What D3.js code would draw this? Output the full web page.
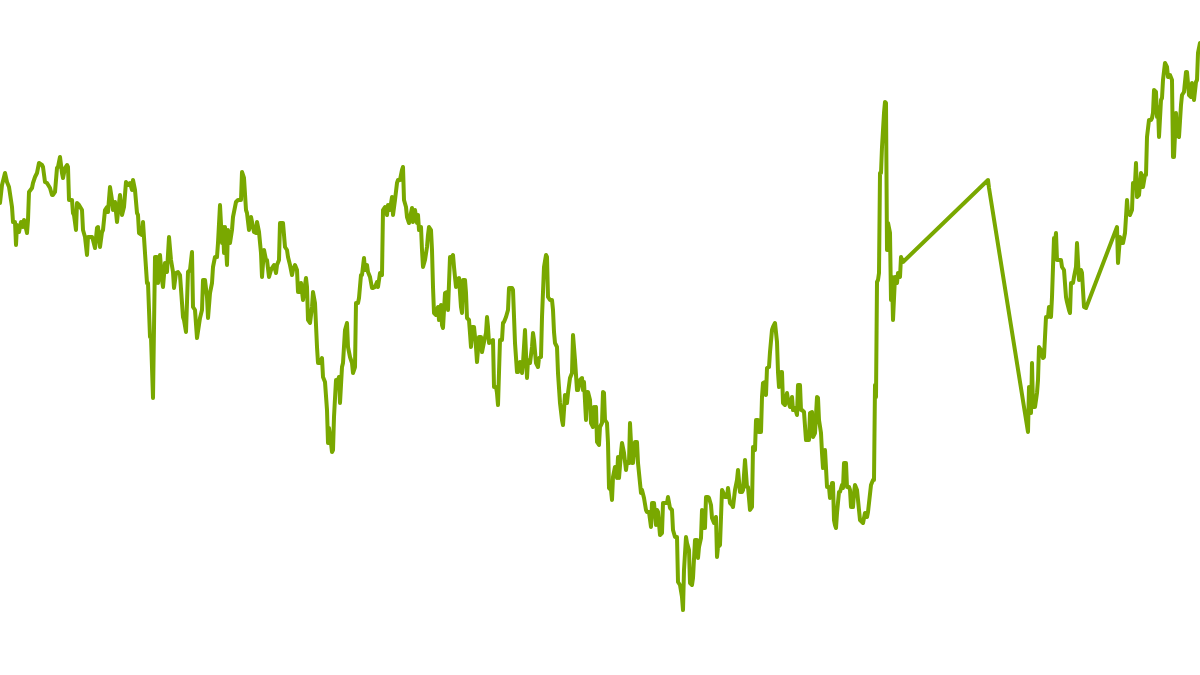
<!DOCTYPE html>
<html>
<head>
<meta charset="utf-8">
<script src="https://cdn.jsdelivr.net/npm/d3@7"></script>
<style>
  html, body { margin: 0; padding: 0; background: #fff; }
  svg { display: block; }
</style>
</head>
<body>
<svg id="chart" width="1200" height="675"></svg>
<script>
// session number (gaps = missing sessions) and closing level
const day = [
  0, 2, 5, 7, 9, 12, 13, 15, 16, 17, 19, 21, 23, 24, 27, 28, 29, 32, 33, 35,
  37, 39, 42, 43, 45, 47, 50, 52, 53, 55, 57, 58, 60, 62, 63, 65, 67, 68, 69, 72,
  73, 74, 76, 77, 79, 82, 83, 85, 87, 88, 90, 92, 93, 95, 97, 98, 100, 102, 103, 105,
  107, 108, 110, 112, 113, 115, 117, 118, 120, 122, 124, 126, 128, 130, 132, 133, 135, 137, 138, 139,
  142, 143, 145, 147, 148, 150, 151, 153, 155, 157, 158, 160, 162, 163, 165, 167, 169, 171, 173, 174,
  176, 178, 180, 183, 184, 186, 188, 190, 192, 193, 195, 197,
  200, 202, 203, 205, 207, 208, 210, 212, 213, 215, 217, 218, 220, 222, 223, 224, 225, 227, 228, 230,
  232, 233, 234, 236, 238, 241, 242, 244, 246, 247, 249, 251, 252, 254, 256, 257, 259, 261, 262, 264,
  266, 267, 269, 271, 272, 274, 276, 277, 279, 280, 282, 283, 285, 287, 288, 290, 292, 293, 295, 297,
  298, 299, 301, 303, 304, 306, 307, 308, 310, 312, 313, 315, 317, 318, 320, 322, 323, 325, 327, 328,
  329, 331, 332, 333, 334, 336, 337, 339, 340, 342, 343, 345, 347, 348, 350, 352, 353, 355, 356, 358,
  359, 361, 362, 364, 365, 367, 368, 370, 372, 373, 375, 377, 378, 380, 382, 383, 385, 387, 388, 390,
  392, 393, 395, 397, 398, 400, 402, 403, 404,
  406, 407, 409, 411, 412, 413, 415, 417, 418, 419, 421, 422, 423, 425, 427, 428, 429, 431, 432, 433,
  434, 436, 438, 439, 441, 442, 443, 445, 447, 448, 450, 452, 453, 454, 456, 457, 459, 461, 462, 463,
  465, 466, 467, 469, 470, 471, 472, 474, 476, 477, 479, 481, 482, 484, 486, 487, 488, 489, 491, 493,
  494, 496, 497, 498, 500, 502, 503, 504, 506, 508, 509, 511, 512, 513, 515, 517, 518, 520, 522, 523,
  525, 527, 528, 530, 532, 533, 534, 536, 538, 539, 541, 542, 544, 546, 547, 548, 550, 552, 553, 554,
  555, 557, 558, 560, 562, 563, 565, 567, 568, 570, 572, 573, 575, 577, 578, 580, 582, 583, 584, 586,
  587, 588, 590, 591, 593, 594, 595, 596, 597, 599, 600, 602, 603, 604, 605, 607, 608, 609, 611, 612,
  613, 615, 617, 618, 619, 621, 622, 624, 626, 627, 629, 630, 632, 633, 635, 637, 638, 639, 641, 642,
  644, 646, 647, 649, 651, 652, 654, 656, 657, 658, 660, 662, 663, 665, 667, 668, 670, 672, 673, 675,
  677, 678, 680, 682, 683, 684, 686, 687, 689, 690, 692, 693, 695, 697, 698, 699, 701, 702, 703, 705,
  706, 708, 709, 711, 712, 714, 716, 717, 718, 720, 722, 723, 725, 727, 728, 730, 732, 733, 735, 737,
  738, 740, 742, 743, 745, 747, 748, 750, 752, 753, 755, 756, 758, 759, 761, 762, 763, 765, 766, 767,
  769, 770, 772, 773, 775, 777, 778, 779, 781, 782, 783, 785, 787, 788, 790, 792, 793, 795, 797, 798,
  800,
  801, 802, 804, 806, 807, 809, 810, 812, 813, 815, 817, 818, 819, 821, 822, 823, 825, 826, 827, 829,
  830, 832, 833, 834, 835, 836, 837, 839, 840, 842, 843, 844, 846, 847, 849, 850, 851, 853, 854, 855,
  857, 858, 860, 862, 863, 865, 867, 868, 869, 871, 873, 874, 875, 876, 877, 878, 879, 880, 881, 882,
  883, 884, 885, 886, 887, 888, 890, 891, 892, 893, 895, 897, 898, 900, 901, 903,
  988, 989,
  1028, 1029, 1031, 1032, 1033, 1035, 1037, 1038, 1039, 1041, 1043, 1044, 1046, 1048, 1049, 1051, 1052, 1053, 1054, 1055,
  1056, 1057, 1059, 1061, 1062, 1064, 1066, 1067, 1069, 1070, 1071, 1073, 1074, 1076, 1077, 1079, 1081, 1082, 1084, 1086,
  1117, 1118, 1120, 1122, 1123, 1125, 1126, 1127, 1128, 1130, 1132, 1133, 1135, 1136, 1137, 1139, 1141, 1142, 1143, 1145,
  1146, 1147, 1149, 1151, 1152, 1153, 1154, 1156, 1157, 1158, 1159, 1161, 1162, 1163, 1165, 1167, 1168, 1170, 1172, 1173,
  1174, 1176, 1177, 1179, 1181, 1182, 1184, 1186, 1187, 1189, 1191, 1192, 1194, 1196, 1197, 1198, 1200
];

const price = [
  47.2, 49.0, 50.2, 49.3, 48.8, 46.8, 45.3, 45.3, 43.0, 45.0, 44.3, 45.3, 44.8, 45.5, 44.2, 45.5, 48.3, 48.7, 49.2, 49.8,
  50.2, 51.2, 51.0, 50.8, 49.3, 49.2, 48.7, 48.0, 48.0, 48.3, 50.7, 50.8, 51.8, 50.2, 49.7, 50.7, 51.0, 50.8, 47.5, 47.5,
  46.2, 46.0, 44.5, 47.2, 47.0, 46.5, 44.5, 43.8, 42.0, 43.8, 43.8, 43.8, 43.5, 42.7, 44.7, 44.8, 42.8, 44.3, 44.5, 46.5,
  46.8, 46.3, 48.8, 47.5, 46.5, 47.3, 45.3, 46.3, 48.0, 46.0, 46.8, 49.3, 49.0, 49.2, 48.5, 49.5, 48.5, 46.2, 46.0, 44.2,
  44.0, 45.3, 42.2, 39.2, 39.2, 33.8, 33.8, 27.7, 41.8, 41.8, 39.2, 42.0, 39.5, 38.8, 41.2, 40.3, 43.8, 41.5, 40.3, 38.7,
  40.2, 40.3, 40.0, 35.8, 35.5, 34.3, 40.3, 40.5, 42.3, 36.8, 36.5, 33.7,
  35.7, 36.5, 39.5, 39.5, 37.8, 35.7, 38.2, 39.2, 40.8, 41.8, 41.8, 43.2, 47.0, 43.2, 44.8, 42.2, 44.8, 41.0, 44.5, 43.2,
  44.5, 45.8, 46.3, 47.3, 47.5, 47.5, 50.3, 49.7, 46.5, 46.2, 44.5, 45.8, 45.3, 44.3, 44.2, 45.3, 44.3, 42.2, 39.8, 42.5,
  41.5, 41.5, 39.8, 40.5, 40.7, 41.0, 40.2, 41.0, 41.5, 45.2, 45.2, 45.2, 42.8, 42.5, 41.8, 41.0, 40.0, 40.5, 41.0, 40.5,
  38.3, 38.3, 39.2, 37.5, 38.3, 39.7, 38.8, 35.5, 35.2, 36.8, 38.3, 37.2, 32.8, 31.2, 31.2, 31.7, 29.8, 29.3, 26.5, 23.2,
  24.7, 23.2, 22.3, 22.5, 25.8, 29.5, 29.2, 29.8, 27.2, 30.8, 31.2, 34.5, 35.2, 32.8, 31.8, 31.2, 30.2, 30.8, 37.2, 37.2,
  37.7, 40.0, 40.0, 41.7, 40.5, 41.0, 40.3, 39.8, 38.7, 38.7, 38.8, 39.3, 38.8, 40.2, 40.0, 46.5, 46.8, 46.0, 47.0, 46.5,
  47.8, 46.0, 47.5, 49.2, 49.5, 49.5, 50.5, 50.8, 47.5,
  46.8, 45.8, 45.2, 46.2, 46.7, 45.3, 46.5, 45.2, 46.0, 44.5, 44.8, 42.5, 40.8, 41.5, 42.8, 44.0, 44.8, 44.5, 42.5, 38.8,
  36.2, 36.0, 36.8, 35.5, 37.0, 35.0, 34.7, 38.2, 38.3, 36.5, 41.8, 41.8, 42.0, 40.8, 38.8, 39.5, 39.7, 36.8, 36.2, 39.5,
  39.5, 38.2, 35.7, 35.5, 34.2, 32.8, 34.8, 34.8, 32.8, 31.3, 33.8, 33.8, 32.3, 33.3, 34.2, 35.8, 34.8, 33.2, 33.3, 33.5,
  28.8, 28.8, 28.2, 27.0, 33.5, 33.5, 35.2, 35.3, 35.8, 36.5, 38.7, 38.7, 38.7, 38.5, 33.2, 30.3, 30.3, 31.3, 30.2, 31.2,
  34.5, 29.7, 31.5, 31.2, 32.8, 34.2, 33.5, 31.2, 30.8, 31.7, 31.8, 35.8, 40.8, 42.0, 41.8, 37.8, 37.5, 37.5, 36.5, 34.3,
  33.2, 32.8, 30.2, 27.2, 25.5, 25.0, 28.0, 27.2, 28.2, 29.7, 30.2, 34.0, 31.5, 28.5, 28.5, 29.5, 29.7, 28.5, 29.3, 25.5,
  28.3, 28.3, 27.5, 25.2, 24.8, 26.8, 26.5, 26.8, 23.3, 23.0, 24.8, 25.2, 28.3, 28.2, 25.5, 25.2, 23.2, 18.7, 18.5, 17.5,
  19.8, 20.8, 19.7, 21.8, 19.7, 22.2, 23.2, 22.2, 20.5, 21.3, 21.2, 25.2, 21.2, 21.2, 23.3, 23.3, 21.2, 20.2, 18.2, 18.5,
  17.7, 16.5, 16.3, 16.3, 14.8, 17.2, 17.2, 15.0, 16.5, 16.3, 14.0, 14.2, 17.2, 17.2, 17.2, 17.8, 16.7, 16.5, 14.5, 13.8,
  13.8, 9.3, 9.0, 7.8, 6.5, 10.5, 13.8, 13.2, 12.5, 9.2, 9.0, 9.7, 13.5, 13.5, 11.7, 12.8, 13.7, 16.5, 14.7, 14.7,
  17.8, 17.8, 17.7, 17.0, 15.7, 15.2, 15.8, 11.8, 12.8, 13.0, 18.5, 18.3, 17.8, 17.8, 18.7, 17.2, 17.0, 16.8, 18.5, 19.5,
  20.5, 18.3, 18.3, 18.5, 21.5, 18.8, 18.8, 16.5, 16.8, 22.8, 22.5, 25.5, 25.5, 24.3, 24.3, 27.8, 29.2, 29.3, 28.0, 30.7,
  30.8, 32.3, 34.5, 34.8, 35.2, 33.3, 30.3, 28.8, 30.3, 30.3, 27.2, 27.0, 28.2, 27.5, 26.8, 27.8, 26.5, 26.7, 26.0, 29.0,
  29.0,
  26.5, 26.5, 26.3, 23.5, 23.5, 23.5, 26.2, 26.3, 23.8, 24.2, 27.8, 27.7, 25.5, 24.2, 22.2, 20.7, 22.5, 20.7, 18.8, 18.8,
  17.7, 19.2, 19.2, 15.5, 15.0, 14.7, 16.2, 18.3, 18.3, 19.0, 18.7, 21.2, 21.2, 18.8, 18.8, 18.5, 16.8, 16.8, 18.2, 19.0,
  18.5, 17.5, 15.5, 15.3, 15.2, 16.2, 15.8, 16.3, 17.2, 19.0, 19.5, 19.5, 29.0, 27.8, 39.3, 39.5, 40.2, 50.2, 50.2, 52.8,
  54.5, 56.2, 57.3, 57.2, 42.5, 45.2, 44.2, 37.5, 39.8, 35.5, 39.8, 39.2, 40.2, 39.8, 41.8, 41.3,
  49.5, 48.7,
  24.3, 28.8, 26.2, 31.2, 26.8, 26.8, 28.2, 29.5, 32.8, 32.5, 31.7, 31.8, 35.8, 35.8, 36.8, 35.8, 37.8, 40.8, 43.7, 43.2,
  44.2, 41.5, 41.5, 41.5, 40.8, 40.5, 37.8, 37.3, 36.5, 36.2, 39.2, 39.2, 39.8, 40.8, 43.2, 39.5, 40.5, 40.2, 36.8, 36.7,
  44.8, 41.2, 43.8, 43.2, 43.2, 44.2, 45.8, 47.5, 46.2, 46.0, 46.5, 49.2, 49.2, 51.2, 47.8, 48.0, 50.2, 49.8, 48.8, 50.0,
  50.0, 53.8, 55.5, 55.5, 55.7, 56.2, 58.5, 58.3, 55.8, 56.8, 53.8, 57.5, 57.7, 59.5, 61.2, 60.8, 59.8, 60.0, 59.5, 51.8,
  51.8, 56.2, 54.0, 53.8, 57.0, 58.0, 58.3, 60.3, 60.3, 58.0, 57.8, 59.2, 57.5, 59.3, 59.5, 62.2, 63.2
];

const lineColor = "#79a800";

const width = 1200;
const height = 675;

const series = day.map((d, i) => ({ day: d, price: price[i] }));

const x = d3.scaleLinear().domain([0, 1200]).range([0, width]);
const y = d3.scaleLinear().domain([0, 67.5]).range([height, 0]);

const svg = d3.select("#chart");

svg.append("defs")
  .append("clipPath")
  .attr("id", "plot-clip")
  .append("rect")
  .attr("width", width)
  .attr("height", height);

const line = d3.line()
  .x(d => x(d.day))
  .y(d => y(d.price));

svg.append("path")
  .datum(series)
  .attr("clip-path", "url(#plot-clip)")
  .attr("fill", "none")
  .attr("stroke", lineColor)
  .attr("stroke-width", 4)
  .attr("stroke-linejoin", "round")
  .attr("stroke-linecap", "round")
  .attr("d", line);
</script>
</body>
</html>
